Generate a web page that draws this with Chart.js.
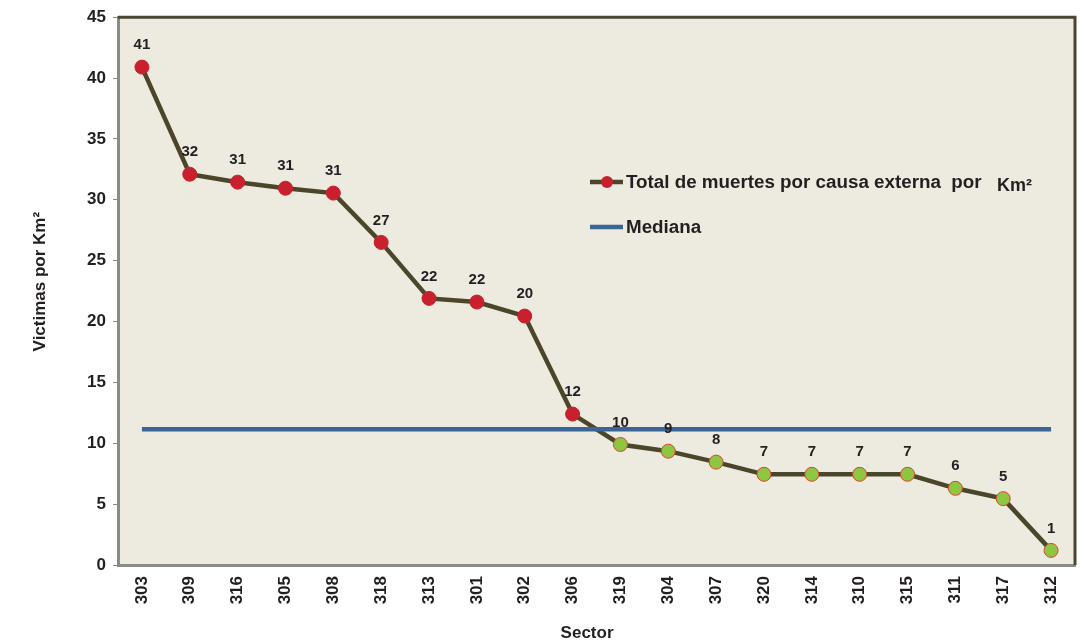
<!DOCTYPE html>
<html>
<head>
<meta charset="utf-8">
<script src="https://cdn.jsdelivr.net/npm/chart.js@4/dist/chart.umd.min.js"></script>
<style>
  html, body { margin: 0; padding: 0; background: #ffffff; }
  #wrap { width: 1084px; height: 644px; }
</style>
</head>
<body>
<div id="wrap"><canvas id="myChart" width="1084" height="644"></canvas></div>
<script>
// sector codes, sorted by value
const sectors = ['303', '309', '316', '305', '308', '318', '313', '301', '302', '306',
  '319', '304', '307', '320', '314', '310', '315', '311', '317', '312'];
// deaths per km2
const deaths = [40.9, 32.1, 31.45, 30.95, 30.55, 26.5, 21.9, 21.6, 20.45, 12.4,
  9.9, 9.35, 8.45, 7.45, 7.45, 7.45, 7.45, 6.3, 5.45, 1.2];
const median = 11.15;
const yTicks = [0, 5, 10, 15, 20, 25, 30, 35, 40, 45];

const textColor = '#231f20';
const lineColor = '#4b4629';
const medianColor = '#3a6597';
const plotBg = '#edeae0';
const fontFamily = 'Arial, "Liberation Sans", sans-serif';

// red above the median, green below
const pointFill = deaths.map(v => v > median ? '#c9202f' : '#8dc63f');
const pointBorder = deaths.map(v => v > median ? '#c9202f' : '#e0403a');

const plotArea = {
  id: 'plotArea',
  beforeDraw(chart) {
    const { ctx, chartArea: a } = chart;
    ctx.save();
    ctx.fillStyle = plotBg;
    ctx.fillRect(a.left, a.top, a.right - a.left, a.bottom - a.top);
    ctx.restore();
  },
  afterDatasetsDraw(chart) {
    const { ctx, chartArea: a } = chart;
    ctx.save();
    // top / right frame
    ctx.strokeStyle = '#4a4630';
    ctx.lineWidth = 3;
    ctx.beginPath();
    ctx.moveTo(a.left, a.top);
    ctx.lineTo(a.right, a.top);
    ctx.lineTo(a.right, a.bottom);
    ctx.stroke();

    // value labels
    const meta = chart.getDatasetMeta(1);
    ctx.fillStyle = textColor;
    ctx.font = 'bold 15px ' + fontFamily;
    ctx.textAlign = 'center';
    ctx.textBaseline = 'middle';
    meta.data.forEach((pt, i) => {
      ctx.fillText(String(Math.round(deaths[i])), pt.x, pt.y - 22);
    });

    // legend
    const lx = 590;
    ctx.lineCap = 'butt';
    ctx.lineWidth = 4.5;
    ctx.strokeStyle = lineColor;
    ctx.beginPath();
    ctx.moveTo(lx, 182);
    ctx.lineTo(lx + 33, 182);
    ctx.stroke();
    ctx.fillStyle = '#c9202f';
    ctx.beginPath();
    ctx.arc(lx + 17, 182, 6, 0, Math.PI * 2);
    ctx.fill();
    ctx.strokeStyle = medianColor;
    ctx.beginPath();
    ctx.moveTo(lx, 227);
    ctx.lineTo(lx + 33, 227);
    ctx.stroke();

    ctx.fillStyle = textColor;
    ctx.textAlign = 'left';
    ctx.font = 'bold 18.8px ' + fontFamily;
    ctx.fillText('Total de muertes por causa externa  por', lx + 36, 183);
    ctx.font = 'bold 18px ' + fontFamily;
    ctx.fillText('Km\u00b2', 997, 186);
    ctx.font = 'bold 18.8px ' + fontFamily;
    ctx.fillText('Mediana', lx + 36, 228);
    ctx.restore();
  }
};

const ctx = document.getElementById('myChart').getContext('2d');
const chartInstance = new Chart(ctx, {
  type: 'line',
  data: {
    labels: sectors,
    datasets: [{
      label: 'Mediana',
      data: sectors.map(() => median),
      borderColor: medianColor,
      borderWidth: 4.5,
      pointRadius: 0,
      order: 0
    }, {
      label: 'Total de muertes por causa externa  por   Km\u00b2',
      data: deaths,
      borderColor: lineColor,
      borderWidth: 4.5,
      tension: 0,
      pointRadius: 7,
      pointBackgroundColor: pointFill,
      pointBorderColor: pointBorder,
      pointBorderWidth: 1,
      order: 1
    }]
  },
  options: {
    responsive: false,
    animation: false,
    layout: { padding: { top: 17, right: 9, left: 0, bottom: 0 } },
    plugins: {
      legend: { display: false },
      tooltip: { enabled: false }
    },
    scales: {
      x: {
        offset: true,
        afterFit: scale => { scale.height = 79; },
        border: { color: '#8a8a8a', width: 3 },
        grid: { display: true, drawOnChartArea: false, drawTicks: false },
        ticks: {
          color: textColor,
          font: { family: fontFamily, size: 17, weight: 'bold' },
          minRotation: 90,
          maxRotation: 90,
          padding: 11
        },
        title: {
          display: true,
          // trailing spaces nudge it left like the original
          text: 'Sector\u00a0\u00a0\u00a0\u00a0',
          color: textColor,
          font: { family: fontFamily, size: 17, weight: 'bold' },
          padding: { top: 0, bottom: 0 }
        }
      },
      y: {
        min: 0,
        max: 45,
        afterFit: scale => { scale.width = 118; },
        afterBuildTicks: scale => { scale.ticks = yTicks.map(v => ({ value: v })); },
        border: { color: '#8a8a8a', width: 3 },
        grid: { display: true, drawOnChartArea: false, drawTicks: true, tickLength: 5, color: '#8a8a8a' },
        ticks: {
          color: textColor,
          font: { family: fontFamily, size: 17, weight: 'bold' },
          padding: 7
        },
        title: {
          display: true,
          text: '\u00a0\u00a0\u00a0\u00a0Victimas por Km\u00b2',
          color: textColor,
          font: { family: fontFamily, size: 17, weight: 'bold' },
          padding: { top: 30, bottom: 0 }
        }
      }
    }
  },
  plugins: [plotArea]
});
</script>
</body>
</html>
